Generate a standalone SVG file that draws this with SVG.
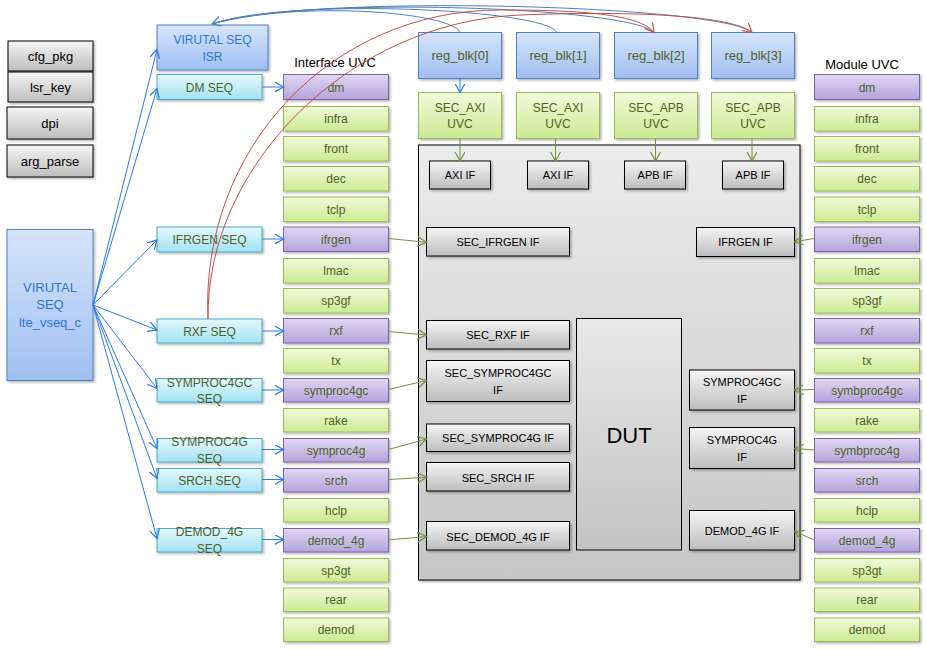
<svg xmlns="http://www.w3.org/2000/svg" width="926" height="649" viewBox="0 0 926 649">
<defs>
<linearGradient id="gGray" x1="0" y1="0" x2="0" y2="1"><stop offset="0" stop-color="#f5f5f5"/><stop offset="1" stop-color="#bdbdbd"/></linearGradient>
<linearGradient id="gBig" x1="0" y1="0" x2="0" y2="1"><stop offset="0" stop-color="#ececec"/><stop offset="1" stop-color="#c6c6c6"/></linearGradient>
<linearGradient id="gDut" x1="0" y1="0" x2="0" y2="1"><stop offset="0" stop-color="#e9e9e9"/><stop offset="1" stop-color="#c3c3c3"/></linearGradient>
<linearGradient id="gBlue" x1="0" y1="0" x2="0" y2="1"><stop offset="0" stop-color="#d6e4fb"/><stop offset="1" stop-color="#9fbff2"/></linearGradient>
<linearGradient id="gCyan" x1="0" y1="0" x2="0" y2="1"><stop offset="0" stop-color="#e4f8fd"/><stop offset="1" stop-color="#a3e2f2"/></linearGradient>
<linearGradient id="gGreen" x1="0" y1="0" x2="0" y2="1"><stop offset="0" stop-color="#f1fadb"/><stop offset="1" stop-color="#cdea93"/></linearGradient>
<linearGradient id="gPurple" x1="0" y1="0" x2="0" y2="1"><stop offset="0" stop-color="#e0d8f2"/><stop offset="1" stop-color="#b4a3dc"/></linearGradient>
<filter id="sh" x="-10%" y="-10%" width="130%" height="130%"><feDropShadow dx="1.5" dy="1.5" stdDeviation="1" flood-color="#000" flood-opacity="0.3"/></filter>
<marker id="aBlue" markerUnits="userSpaceOnUse" markerWidth="12" markerHeight="12" refX="9" refY="5" orient="auto"><path d="M0,0 L9,5 L0,10" fill="none" stroke="#2a7af5" stroke-width="1.2"/></marker>
<marker id="aDk" markerUnits="userSpaceOnUse" markerWidth="12" markerHeight="12" refX="9" refY="5" orient="auto"><path d="M0,0 L9,5 L0,10" fill="none" stroke="#4f81bd" stroke-width="1.2"/></marker>
<marker id="aGreen" markerUnits="userSpaceOnUse" markerWidth="12" markerHeight="12" refX="9" refY="5" orient="auto"><path d="M0,0 L9,5 L0,10" fill="none" stroke="#77933c" stroke-width="1.2"/></marker>
<marker id="aRed" markerUnits="userSpaceOnUse" markerWidth="12" markerHeight="12" refX="9" refY="5" orient="auto"><path d="M0,0 L9,5 L0,10" fill="none" stroke="#c0504d" stroke-width="1.2"/></marker>
<style>
text{font-family:"Liberation Sans",Arial,sans-serif;text-anchor:middle}
.gray{fill:url(#gGray);stroke:#000;stroke-width:1;filter:url(#sh)}
.big{fill:url(#gBig);stroke:#000;stroke-width:1;filter:url(#sh)}
.dut{fill:url(#gDut);stroke:#000;stroke-width:1}
.blue{fill:url(#gBlue);stroke:#4f81bd;stroke-width:1;filter:url(#sh)}
.cyan{fill:url(#gCyan);stroke:#4bacc6;stroke-width:1;filter:url(#sh)}
.green{fill:url(#gGreen);stroke:#9bbb59;stroke-width:1;filter:url(#sh)}
.purple{fill:url(#gPurple);stroke:#8064a2;stroke-width:1;filter:url(#sh)}
.tk{font-size:13px;fill:#000}
.tif{font-size:11px;fill:#000}
.tu{font-size:12px;fill:#4f6228}
.tr{font-size:13px;fill:#4f6228}
.tb{font-size:12px;fill:#2e75d0}
.tv{font-size:13px;fill:#2e75d0}
.lbl{font-size:13px;fill:#000}
.cb{fill:none;stroke:#2a7af5;stroke-width:1;marker-end:url(#aBlue)}
.cd{fill:none;stroke:#4f81bd;stroke-width:1}
.cg{fill:none;stroke:#77933c;stroke-width:1;marker-end:url(#aGreen)}
.cr{fill:none;stroke:#c0504d;stroke-width:1;marker-end:url(#aRed)}
</style>
</defs>
<rect width="926" height="649" fill="#fff"/>

<!-- legend -->
<g id="cfg_pkg"><rect class="gray" x="8" y="41" width="85" height="30"/><text class="tk" x="50.5" y="61">cfg_pkg</text></g>
<g id="lsr_key"><rect class="gray" x="8" y="72" width="85" height="30"/><text class="tk" x="50.5" y="92">lsr_key</text></g>
<g id="dpi"><rect class="gray" x="7" y="107" width="86" height="32"/><text class="tk" x="50" y="127.5">dpi</text></g>
<g id="arg_parse"><rect class="gray" x="7" y="145" width="86" height="32"/><text class="tk" x="50" y="165.5">arg_parse</text></g>

<!-- big box and DUT -->
<g id="dut_env"><rect class="big" x="418.5" y="145" width="381.5" height="435"/></g>
<g id="dut"><rect class="dut" x="576.5" y="318.5" width="105" height="231.5"/><text x="629" y="443" style="font-size:22px;fill:#000">DUT</text></g>

<!-- virtual sequences -->
<g id="lte_vseq_c"><rect class="blue" x="7" y="229.5" width="86" height="151"/>
<text class="tv" x="50" y="292">VIRUTAL</text><text class="tv" x="50" y="309">SEQ</text><text class="tv" x="50" y="327">lte_vseq_c</text></g>
<g id="vseq_isr"><rect class="blue" x="157" y="25" width="111" height="45"/>
<text class="tb" x="212.5" y="43.5">VIRUTAL SEQ</text><text class="tb" x="212.5" y="61">ISR</text></g>
<g id="dm_seq"><rect class="cyan" x="157" y="74.5" width="105" height="25"/><text class="tu" x="209.5" y="91.5">DM SEQ</text></g>
<g id="ifrgen_seq"><rect class="cyan" x="157" y="227" width="105" height="25"/><text class="tu" x="209.5" y="244">IFRGEN SEQ</text></g>
<g id="rxf_seq"><rect class="cyan" x="157" y="319" width="105" height="24"/><text class="tu" x="209.5" y="335.5">RXF SEQ</text></g>
<g id="symproc4gc_seq"><rect class="cyan" x="157" y="378.5" width="105" height="23.5"/><text class="tu" x="209.5" y="387">SYMPROC4GC</text><text class="tu" x="209.5" y="403">SEQ</text></g>
<g id="symproc4g_seq"><rect class="cyan" x="157" y="438.5" width="105" height="23.5"/><text class="tu" x="209.5" y="446">SYMPROC4G</text><text class="tu" x="209.5" y="463">SEQ</text></g>
<g id="srch_seq"><rect class="cyan" x="157" y="468.5" width="105" height="23.5"/><text class="tu" x="209.5" y="484.5">SRCH SEQ</text></g>
<g id="demod_4g_seq"><rect class="cyan" x="157" y="528.5" width="105" height="23.5"/><text class="tu" x="209.5" y="536">DEMOD_4G</text><text class="tu" x="209.5" y="552.5">SEQ</text></g>

<!-- labels -->
<text class="lbl" x="335" y="66.5">Interface UVC</text>
<text class="lbl" x="862" y="68.5">Module UVC</text>

<!-- Interface UVC column -->
<g id="if_dm"><rect class="purple" x="283.5" y="74.5" width="105" height="25"/><text class="tu" x="336" y="91.5">dm</text></g>
<g id="if_infra"><rect class="green" x="283.5" y="106.5" width="105" height="24.5"/><text class="tu" x="336" y="123">infra</text></g>
<g id="if_front"><rect class="green" x="283.5" y="136.5" width="105" height="24.5"/><text class="tu" x="336" y="153">front</text></g>
<g id="if_dec"><rect class="green" x="283.5" y="166.5" width="105" height="24.5"/><text class="tu" x="336" y="183">dec</text></g>
<g id="if_tclp"><rect class="green" x="283.5" y="197" width="105" height="24.5"/><text class="tu" x="336" y="213.5">tclp</text></g>
<g id="if_ifrgen"><rect class="purple" x="283.5" y="227" width="105" height="24.5"/><text class="tu" x="336" y="243.5">ifrgen</text></g>
<g id="if_lmac"><rect class="green" x="283.5" y="258.5" width="105" height="24.5"/><text class="tu" x="336" y="275">lmac</text></g>
<g id="if_sp3gf"><rect class="green" x="283.5" y="288.5" width="105" height="24.5"/><text class="tu" x="336" y="305">sp3gf</text></g>
<g id="if_rxf"><rect class="purple" x="283.5" y="318.5" width="105" height="24.5"/><text class="tu" x="336" y="335">rxf</text></g>
<g id="if_tx"><rect class="green" x="283.5" y="348.5" width="105" height="24.5"/><text class="tu" x="336" y="365">tx</text></g>
<g id="if_symproc4gc"><rect class="purple" x="283.5" y="378.5" width="105" height="23.5"/><text class="tu" x="336" y="394.5">symproc4gc</text></g>
<g id="if_rake"><rect class="green" x="283.5" y="408.5" width="105" height="23.5"/><text class="tu" x="336" y="424.5">rake</text></g>
<g id="if_symproc4g"><rect class="purple" x="283.5" y="438.5" width="105" height="23.5"/><text class="tu" x="336" y="454.5">symproc4g</text></g>
<g id="if_srch"><rect class="purple" x="283.5" y="468.5" width="105" height="23.5"/><text class="tu" x="336" y="484.5">srch</text></g>
<g id="if_hclp"><rect class="green" x="283.5" y="498.5" width="105" height="23.5"/><text class="tu" x="336" y="514.5">hclp</text></g>
<g id="if_demod_4g"><rect class="purple" x="283.5" y="528.5" width="105" height="23.5"/><text class="tu" x="336" y="544.5">demod_4g</text></g>
<g id="if_sp3gt"><rect class="green" x="283.5" y="558.5" width="105" height="23.5"/><text class="tu" x="336" y="574.5">sp3gt</text></g>
<g id="if_rear"><rect class="green" x="283.5" y="588" width="105" height="23.5"/><text class="tu" x="336" y="604">rear</text></g>
<g id="if_demod"><rect class="green" x="283.5" y="618" width="105" height="23.5"/><text class="tu" x="336" y="634">demod</text></g>

<!-- Module UVC column -->
<g id="m_dm"><rect class="purple" x="814.5" y="74.5" width="105" height="25"/><text class="tu" x="867" y="91.5">dm</text></g>
<g id="m_infra"><rect class="green" x="814.5" y="106.5" width="105" height="24.5"/><text class="tu" x="867" y="123">infra</text></g>
<g id="m_front"><rect class="green" x="814.5" y="136.5" width="105" height="24.5"/><text class="tu" x="867" y="153">front</text></g>
<g id="m_dec"><rect class="green" x="814.5" y="166.5" width="105" height="24.5"/><text class="tu" x="867" y="183">dec</text></g>
<g id="m_tclp"><rect class="green" x="814.5" y="197" width="105" height="24.5"/><text class="tu" x="867" y="213.5">tclp</text></g>
<g id="m_ifrgen"><rect class="purple" x="814.5" y="227" width="105" height="24.5"/><text class="tu" x="867" y="243.5">ifrgen</text></g>
<g id="m_lmac"><rect class="green" x="814.5" y="258.5" width="105" height="24.5"/><text class="tu" x="867" y="275">lmac</text></g>
<g id="m_sp3gf"><rect class="green" x="814.5" y="288.5" width="105" height="24.5"/><text class="tu" x="867" y="305">sp3gf</text></g>
<g id="m_rxf"><rect class="purple" x="814.5" y="318.5" width="105" height="24.5"/><text class="tu" x="867" y="335">rxf</text></g>
<g id="m_tx"><rect class="green" x="814.5" y="348.5" width="105" height="24.5"/><text class="tu" x="867" y="365">tx</text></g>
<g id="m_symbproc4gc"><rect class="purple" x="814.5" y="378.5" width="105" height="23.5"/><text class="tu" x="867" y="394.5">symbproc4gc</text></g>
<g id="m_rake"><rect class="green" x="814.5" y="408.5" width="105" height="23.5"/><text class="tu" x="867" y="424.5">rake</text></g>
<g id="m_symbproc4g"><rect class="purple" x="814.5" y="438.5" width="105" height="23.5"/><text class="tu" x="867" y="454.5">symbproc4g</text></g>
<g id="m_srch"><rect class="purple" x="814.5" y="468.5" width="105" height="23.5"/><text class="tu" x="867" y="484.5">srch</text></g>
<g id="m_hclp"><rect class="green" x="814.5" y="498.5" width="105" height="23.5"/><text class="tu" x="867" y="514.5">hclp</text></g>
<g id="m_demod_4g"><rect class="purple" x="814.5" y="528.5" width="105" height="23.5"/><text class="tu" x="867" y="544.5">demod_4g</text></g>
<g id="m_sp3gt"><rect class="green" x="814.5" y="558.5" width="105" height="23.5"/><text class="tu" x="867" y="574.5">sp3gt</text></g>
<g id="m_rear"><rect class="green" x="814.5" y="588" width="105" height="23.5"/><text class="tu" x="867" y="604">rear</text></g>
<g id="m_demod"><rect class="green" x="814.5" y="618" width="105" height="23.5"/><text class="tu" x="867" y="634">demod</text></g>

<!-- reg blocks and SEC UVCs -->
<g id="reg_blk0"><rect class="blue" x="418.5" y="32.5" width="83" height="46"/><text class="tr" x="460" y="60">reg_blk[0]</text></g>
<g id="reg_blk1"><rect class="blue" x="516.5" y="32.5" width="83" height="46"/><text class="tr" x="558" y="60">reg_blk[1]</text></g>
<g id="reg_blk2"><rect class="blue" x="614.5" y="32.5" width="83" height="46"/><text class="tr" x="656" y="60">reg_blk[2]</text></g>
<g id="reg_blk3"><rect class="blue" x="711.5" y="32.5" width="83" height="46"/><text class="tr" x="753" y="60">reg_blk[3]</text></g>
<g id="sec_axi0"><rect class="green" x="418.5" y="92.5" width="83" height="46"/><text class="tu" x="460" y="111.5">SEC_AXI</text><text class="tu" x="460" y="128">UVC</text></g>
<g id="sec_axi1"><rect class="green" x="516.5" y="92.5" width="83" height="46"/><text class="tu" x="558" y="111.5">SEC_AXI</text><text class="tu" x="558" y="128">UVC</text></g>
<g id="sec_apb2"><rect class="green" x="614.5" y="92.5" width="83" height="46"/><text class="tu" x="656" y="111.5">SEC_APB</text><text class="tu" x="656" y="128">UVC</text></g>
<g id="sec_apb3"><rect class="green" x="711.5" y="92.5" width="83" height="46"/><text class="tu" x="753" y="111.5">SEC_APB</text><text class="tu" x="753" y="128">UVC</text></g>

<!-- IF boxes -->
<g id="axi_if0"><rect class="gray" x="429.5" y="161" width="61" height="28"/><text class="tif" x="460" y="179">AXI IF</text></g>
<g id="axi_if1"><rect class="gray" x="527.5" y="161" width="61" height="28"/><text class="tif" x="558" y="179">AXI IF</text></g>
<g id="apb_if2"><rect class="gray" x="624.5" y="161" width="61" height="28"/><text class="tif" x="655" y="179">APB IF</text></g>
<g id="apb_if3"><rect class="gray" x="722.5" y="161" width="61" height="28"/><text class="tif" x="753" y="179">APB IF</text></g>
<g id="sec_ifrgen_if"><rect class="gray" x="426.5" y="227.5" width="143" height="28.5"/><text class="tif" x="498" y="246">SEC_IFRGEN IF</text></g>
<g id="sec_rxf_if"><rect class="gray" x="426.5" y="320.5" width="143" height="28.5"/><text class="tif" x="498" y="339">SEC_RXF IF</text></g>
<g id="sec_symproc4gc_if"><rect class="gray" x="426.5" y="360.5" width="143" height="41"/><text class="tif" x="498" y="377">SEC_SYMPROC4GC</text><text class="tif" x="498" y="394">IF</text></g>
<g id="sec_symproc4g_if"><rect class="gray" x="426.5" y="424" width="143" height="27.5"/><text class="tif" x="498" y="442">SEC_SYMPROC4G IF</text></g>
<g id="sec_srch_if"><rect class="gray" x="426.5" y="462.5" width="143" height="28.5"/><text class="tif" x="498" y="481.5">SEC_SRCH IF</text></g>
<g id="sec_demod_4g_if"><rect class="gray" x="426.5" y="521.5" width="143" height="28.5"/><text class="tif" x="498" y="540.5">SEC_DEMOD_4G IF</text></g>
<g id="ifrgen_if"><rect class="gray" x="696.5" y="227.5" width="98" height="29"/><text class="tif" x="745.5" y="246">IFRGEN IF</text></g>
<g id="symproc4gc_if"><rect class="gray" x="689.5" y="370" width="105" height="40"/><text class="tif" x="742" y="386">SYMPROC4GC</text><text class="tif" x="742" y="402.5">IF</text></g>
<g id="symproc4g_if"><rect class="gray" x="689.5" y="427.5" width="105" height="41"/><text class="tif" x="742" y="444">SYMPROC4G</text><text class="tif" x="742" y="461">IF</text></g>
<g id="demod_4g_if"><rect class="gray" x="689.5" y="510.5" width="105" height="39.5"/><text class="tif" x="742" y="534.5">DEMOD_4G IF</text></g>

<!-- connectors -->
<g id="connectors">
<!-- fan from lte_vseq_c -->
<path class="cb" d="M93,305 L157,49.5"/>
<path class="cb" d="M93,305 L157,88.5"/>
<path class="cb" d="M93,305 L157,240"/>
<path class="cb" d="M93,305 L157,330"/>
<path class="cb" d="M93,305 L157,388.5"/>
<path class="cb" d="M93,305 L157,448.5"/>
<path class="cb" d="M93,305 L157,478.5"/>
<path class="cb" d="M93,305 L157,538.5"/>
<!-- seq to interface uvc -->
<path class="cb" d="M262,87 L283.5,87"/>
<path class="cb" d="M262,239 L283.5,239"/>
<path class="cb" d="M262,331 L283.5,331"/>
<path class="cb" d="M262,390 L283.5,390"/>
<path class="cb" d="M262,449.5 L283.5,449.5"/>
<path class="cb" d="M262,479.5 L283.5,479.5"/>
<path class="cb" d="M262,539.5 L283.5,539.5"/>
<!-- reg_blk0 to sec_axi0 -->
<path class="cb" d="M460,78.5 L460,92.5"/>
<!-- sec uvc to IFs -->
<path class="cg" d="M460,138.5 L460,161"/>
<path class="cg" d="M555.5,138.5 L555.5,161"/>
<path class="cg" d="M655.5,138.5 L655.5,161"/>
<path class="cg" d="M752,138.5 L752,161"/>
<!-- interface uvc to SEC IFs -->
<path class="cg" d="M388.5,238.5 L426.5,242.3"/>
<path class="cg" d="M388.5,331.5 L426.5,335"/>
<path class="cg" d="M388.5,389.5 L426.5,380.5"/>
<path class="cg" d="M388.5,449.5 L426.5,439"/>
<path class="cg" d="M388.5,479.5 L426.5,477.3"/>
<path class="cg" d="M388.5,540 L426.5,536.5"/>
<!-- module uvc to IFs -->
<path class="cg" d="M814.5,238.5 L794.5,241.7"/>
<path class="cg" d="M814.5,389.5 L794.5,390"/>
<path class="cg" d="M814.5,450 L794.5,448.5"/>
<path class="cg" d="M814.5,540 L794.5,531.5"/>
<!-- reg blocks to ISR -->
<path class="cd" d="M460,32.5 C452,12 300,0 212,24"/>
<path class="cd" d="M557,32.5 C546,9 290,-3 212,24"/>
<path class="cd" d="M654,32.5 C632,7 300,-5 212,24"/>
<path class="cd" d="M752,32.5 C722,5 310,-7 212,24" marker-end="url(#aDk)"/>
<!-- RXF SEQ to reg blocks -->
<path class="cr" d="M208,319 C200,150 330,10 500,10 C580,10 640,14 654,32.5"/>
<path class="cr" d="M208,319 C206,165 350,22 520,15 C620,11 730,14 752,32.5"/>
</g>
</svg>
